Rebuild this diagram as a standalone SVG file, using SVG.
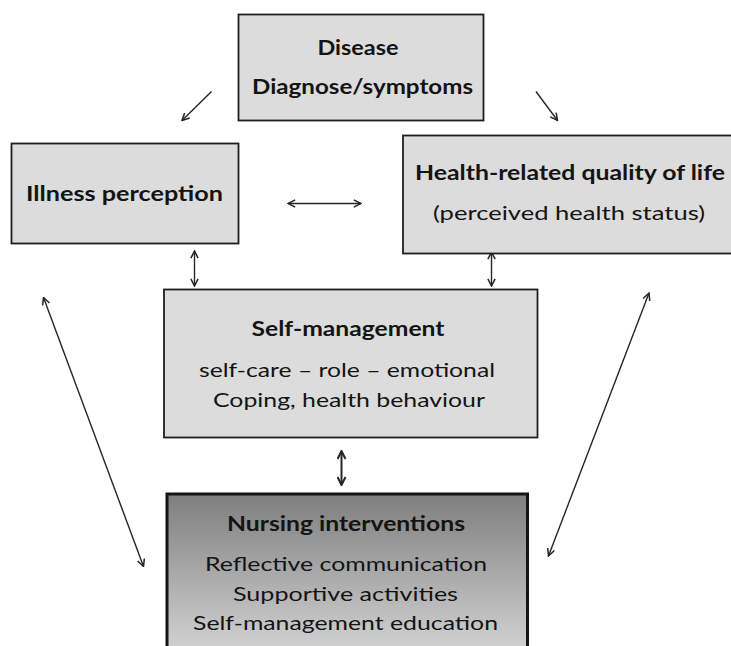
<svg xmlns="http://www.w3.org/2000/svg" width="731" height="646" viewBox="0 0 731 646">
<style>
.box{fill:#dcdcdc;stroke:#1e1e1e;stroke-width:1.8}
.t{font-family:Lato,"Open Sans","Liberation Sans",sans-serif;font-size:20px;fill:#141414;text-anchor:middle}
.b{font-weight:bold}
.c{stroke:#262626;stroke-width:1.4;fill:none;marker-start:url(#ah);marker-end:url(#ah)}
.s{stroke:#262626;stroke-width:1.4;fill:none;marker-end:url(#ah)}
</style>
<defs>
<marker id="ah" viewBox="0 0 10 10" refX="9" refY="5" markerWidth="9" markerHeight="9" markerUnits="userSpaceOnUse" orient="auto-start-reverse">
<path d="M1,1 L9,5 L1,9" fill="none" stroke="#262626" stroke-width="1.7"/>
</marker>
<marker id="ah2" viewBox="0 0 10 10" refX="9" refY="5" markerWidth="10" markerHeight="10" markerUnits="userSpaceOnUse" orient="auto-start-reverse">
<path d="M1,1 L9,5 L1,9" fill="none" stroke="#262626" stroke-width="2"/>
</marker>
<linearGradient id="ng" x1="0" y1="0" x2="0" y2="1">
<stop offset="0" stop-color="#7e7e7e"/>
<stop offset="1" stop-color="#d4d4d4"/>
</linearGradient>
</defs>
<rect width="731" height="646" fill="#ffffff"/>
<g id="connectors">
<line class="s" x1="211.5" y1="91.5" x2="182" y2="120.5"/>
<line class="s" x1="536" y1="91.5" x2="557.5" y2="120.5"/>
<line class="c" x1="288" y1="203.5" x2="361" y2="203.5"/>
<line class="c" x1="194.5" y1="251" x2="194.5" y2="286"/>
<line class="c" x1="491.5" y1="252" x2="491.5" y2="286"/>
<line class="c" x1="341.5" y1="451" x2="341.5" y2="485" style="stroke-width:2;marker-start:url(#ah2);marker-end:url(#ah2)"/>
<line class="c" x1="43.5" y1="297.5" x2="143.5" y2="566.5"/>
<line class="c" x1="649" y1="293" x2="548.5" y2="556"/>
</g>
<g id="disease">
<rect class="box" x="238.5" y="14.5" width="245" height="106"/>
<text class="t b" x="358" y="55" textLength="81" lengthAdjust="spacingAndGlyphs">Disease</text>
<text class="t b" x="362.5" y="94" textLength="221" lengthAdjust="spacingAndGlyphs">Diagnose/symptoms</text>
</g>
<g id="illness">
<rect class="box" x="11.5" y="143.5" width="227" height="100"/>
<text class="t b" x="124.5" y="200.5" textLength="197" lengthAdjust="spacingAndGlyphs">Illness perception</text>
</g>
<g id="hrqol">
<rect class="box" x="403" y="135.5" width="332" height="118"/>
<text class="t b" x="570" y="180" textLength="310" lengthAdjust="spacingAndGlyphs">Health-related quality of life</text>
<text class="t" x="569" y="220" textLength="272" lengthAdjust="spacingAndGlyphs">(perceived health status)</text>
</g>
<g id="selfmanagement">
<rect class="box" x="164" y="289.5" width="373.5" height="148"/>
<text class="t b" x="348" y="336" textLength="193" lengthAdjust="spacingAndGlyphs">Self-management</text>
<text class="t" x="347" y="377" textLength="296" lengthAdjust="spacingAndGlyphs">self-care – role – emotional</text>
<text class="t" x="349" y="407" textLength="272" lengthAdjust="spacingAndGlyphs">Coping, health behaviour</text>
</g>
<g id="nursing">
<rect x="167" y="494" width="360.5" height="160" fill="url(#ng)" stroke="#141414" stroke-width="3"/>
<text class="t b" x="346" y="531" textLength="238" lengthAdjust="spacingAndGlyphs">Nursing interventions</text>
<text class="t" x="346" y="571" textLength="282" lengthAdjust="spacingAndGlyphs">Reflective communication</text>
<text class="t" x="345.5" y="601" textLength="225" lengthAdjust="spacingAndGlyphs">Supportive activities</text>
<text class="t" x="345.5" y="630" textLength="305" lengthAdjust="spacingAndGlyphs">Self-management education</text>
</g>
</svg>
